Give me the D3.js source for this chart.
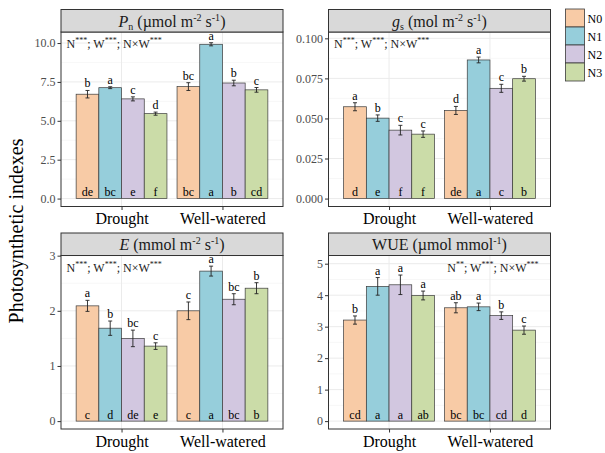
<!DOCTYPE html>
<html>
<head>
<meta charset="utf-8">
<script src="https://cdn.jsdelivr.net/npm/d3@7"></script>
<style>
  body { margin: 0; background: #fff; }
  svg text { font-family: "Liberation Serif", "Times New Roman", serif !important; }
</style>
</head>
<body>
<div id="chart"></div>
<script>
// Categories
const groups = ["Drought", "Well-watered"];
const nLevels = ["N0", "N1", "N2", "N3"];
const colors = ["#F8CBA6", "#96CEDB", "#D2C7E0", "#CBDCA8"];

// Values, ordered Drought N0..N3 then Well-watered N0..N3
const pnMean = [6.71, 7.13, 6.41, 5.46, 7.2, 9.92, 7.43, 6.99];
const pnSe = [0.24, 0.06, 0.13, 0.1, 0.25, 0.1, 0.18, 0.15];
const pnTop = ["b", "a", "c", "d", "bc", "a", "b", "c"];
const pnBottom = ["de", "bc", "e", "f", "bc", "a", "b", "cd"];

const gsMean = [0.0573, 0.0502, 0.0427, 0.0402, 0.055, 0.0865, 0.0688, 0.0748];
const gsSe = [0.0025, 0.002, 0.003, 0.002, 0.0025, 0.0018, 0.0025, 0.0015];
const gsTop = ["a", "b", "c", "c", "d", "a", "c", "b"];
const gsBottom = ["d", "e", "f", "f", "de", "a", "c", "b"];

const eMean = [2.09, 1.685, 1.5, 1.36, 2.0, 2.72, 2.21, 2.41];
const eSe = [0.1, 0.13, 0.15, 0.06, 0.16, 0.09, 0.1, 0.1];
const eTop = ["a", "b", "bc", "c", "c", "a", "bc", "b"];
const eBottom = ["c", "d", "de", "e", "c", "a", "bc", "b"];

const wueMean = [3.21, 4.28, 4.33, 3.99, 3.6, 3.63, 3.35, 2.89];
const wueSe = [0.13, 0.28, 0.31, 0.14, 0.16, 0.12, 0.12, 0.13];
const wueTop = ["b", "a", "a", "a", "ab", "a", "b", "c"];
const wueBottom = ["cd", "a", "a", "ab", "bc", "bc", "cd", "d"];

// Axis ticks and upper end of the data range per panel
const pnTicks = [0, 2.5, 5, 7.5, 10];
const gsTicks = [0, 0.025, 0.05, 0.075, 0.1];
const eTicks = [0, 1, 2, 3];
const wueTicks = [0, 1, 2, 3, 4, 5];
const dataMax = [10.2, 0.099, 2.86, 5.01];

// Significance notes
const sigN = ["***", "***", "***", "**"];

const FONT = "'Liberation Serif', 'Times New Roman', serif";
const width = 605, height = 453;
const svg = d3.select("#chart").append("svg")
  .attr("width", width).attr("height", height)
  .style("font-family", FONT);

const panels = [
  { mean: pnMean, se: pnSe, top: pnTop, bottom: pnBottom, ticks: pnTicks, fmt: ".1f",
    x0: 61, x1: 283, y0: 32, y1: 206.5, title: "pn", noteAlign: "start" },
  { mean: gsMean, se: gsSe, top: gsTop, bottom: gsBottom, ticks: gsTicks, fmt: ".3f",
    x0: 328.5, x1: 550.5, y0: 32, y1: 206.5, title: "gs", noteAlign: "start" },
  { mean: eMean, se: eSe, top: eTop, bottom: eBottom, ticks: eTicks, fmt: "d",
    x0: 61, x1: 283, y0: 255.5, y1: 429, title: "e", noteAlign: "start" },
  { mean: wueMean, se: wueSe, top: wueTop, bottom: wueBottom, ticks: wueTicks, fmt: "d",
    x0: 328.5, x1: 550.5, y0: 255.5, y1: 429, title: "wue", noteAlign: "end" }
];

function writeTitle(t, key) {
  const sup = (s) => t.append("tspan").attr("font-size", 10).attr("dy", -6).text(s);
  const back = () => t.append("tspan").attr("dy", 6);
  if (key === "pn") {
    t.append("tspan").attr("font-style", "italic").text("P");
    t.append("tspan").attr("font-size", 10).attr("dy", 3).text("n");
    t.append("tspan").attr("dy", -3).text(" (µmol m");
  } else if (key === "gs") {
    t.append("tspan").attr("font-style", "italic").text("g");
    t.append("tspan").attr("font-size", 10).attr("dy", 3).text("s");
    t.append("tspan").attr("dy", -3).text(" (mol m");
  } else if (key === "e") {
    t.append("tspan").attr("font-style", "italic").text("E");
    t.append("tspan").text(" (mmol m");
  } else {
    t.append("tspan").text("WUE (µmol mmol");
    sup("-1");
    back().text(")");
    return;
  }
  sup("-2");
  back().text(" s");
  sup("-1");
  back().text(")");
}

function writeNote(t, nStars) {
  const sup = (s) => t.append("tspan").attr("font-size", 8).attr("dy", -5).text(s);
  t.append("tspan").text("N");
  sup(nStars);
  t.append("tspan").attr("dy", 5).text("; W");
  sup("***");
  t.append("tspan").attr("dy", 5).text("; N×W");
  sup("***");
}

panels.forEach((p, pi) => {
  const g = svg.append("g");
  const M = dataMax[pi];
  const y = d3.scaleLinear().domain([-0.05 * M, 1.05 * M]).range([p.y1, p.y0]);
  const x = d3.scaleLinear().domain([0.4, 2.6]).range([p.x0, p.x1]);
  const barW = 0.9 / nLevels.length;

  // background grid
  const step = p.ticks[1] - p.ticks[0];
  const minor = p.ticks.map(v => v + step / 2).concat([p.ticks[0] - step / 2])
    .filter(v => v > y.domain()[0] && v < y.domain()[1]);
  g.selectAll(".minor").data(minor).join("line")
    .attr("x1", p.x0).attr("x2", p.x1)
    .attr("y1", d => y(d)).attr("y2", d => y(d))
    .attr("stroke", "#F2F2F2").attr("stroke-width", 0.6);
  g.selectAll(".major").data(p.ticks).join("line")
    .attr("x1", p.x0).attr("x2", p.x1)
    .attr("y1", d => y(d)).attr("y2", d => y(d))
    .attr("stroke", "#EBEBEB").attr("stroke-width", 1);
  g.selectAll(".vmajor").data(groups).join("line")
    .attr("x1", (d, i) => x(i + 1)).attr("x2", (d, i) => x(i + 1))
    .attr("y1", p.y0).attr("y2", p.y1)
    .attr("stroke", "#EBEBEB").attr("stroke-width", 1);

  // bars
  const rows = p.mean.map((v, k) => {
    const gi = Math.floor(k / nLevels.length), ni = k % nLevels.length;
    const left = gi + 1 - 0.45 + ni * barW;
    return { v, se: p.se[k], ni, left, mid: left + barW / 2, top: p.top[k], bottom: p.bottom[k] };
  });

  g.selectAll(".bar").data(rows).join("rect")
    .attr("x", d => x(d.left))
    .attr("width", d => x(d.left + barW) - x(d.left))
    .attr("y", d => y(d.v))
    .attr("height", d => y(0) - y(d.v))
    .attr("fill", d => colors[d.ni])
    .attr("stroke", "#3a3a3a").attr("stroke-width", 0.7);

  // error bars
  const cap = 2;
  rows.forEach(d => {
    const cx = x(d.mid);
    g.append("line").attr("x1", cx).attr("x2", cx)
      .attr("y1", y(d.v - d.se)).attr("y2", y(d.v + d.se))
      .attr("stroke", "#222").attr("stroke-width", 0.9);
    [d.v - d.se, d.v + d.se].forEach(e => {
      g.append("line").attr("x1", cx - cap).attr("x2", cx + cap)
        .attr("y1", y(e)).attr("y2", y(e))
        .attr("stroke", "#222").attr("stroke-width", 0.9);
    });
  });

  // letters above and inside bars
  g.selectAll(".ltop").data(rows).join("text")
    .attr("x", d => x(d.mid)).attr("y", d => y(d.v + d.se) - 3)
    .attr("text-anchor", "middle").attr("font-size", 12).text(d => d.top);
  g.selectAll(".lbot").data(rows).join("text")
    .attr("x", d => x(d.mid)).attr("y", y(0) - 2.5)
    .attr("text-anchor", "middle").attr("font-size", 12).text(d => d.bottom);

  // panel border
  g.append("rect").attr("x", p.x0).attr("y", p.y0)
    .attr("width", p.x1 - p.x0).attr("height", p.y1 - p.y0)
    .attr("fill", "none").attr("stroke", "#333").attr("stroke-width", 1);

  // strip
  g.append("rect").attr("x", p.x0).attr("y", p.y0 - 22.5)
    .attr("width", p.x1 - p.x0).attr("height", 22.5)
    .attr("fill", "#D9D9D9").attr("stroke", "#333").attr("stroke-width", 1);
  const title = g.append("text")
    .attr("x", (p.x0 + p.x1) / 2).attr("y", p.y0 - 5.5)
    .attr("text-anchor", "middle").attr("font-size", 16).attr("fill", "#1a1a1a");
  writeTitle(title, p.title);

  // significance note
  const note = g.append("text")
    .attr("x", p.noteAlign === "start" ? p.x0 + 5.5 : p.x1 - 12)
    .attr("y", p.y0 + 16)
    .attr("text-anchor", p.noteAlign).attr("font-size", 12).attr("fill", "#1a1a1a");
  writeNote(note, sigN[pi]);

  // y axis
  const yAxis = g.append("g").attr("transform", `translate(${p.x0},0)`)
    .call(d3.axisLeft(y).tickValues(p.ticks).tickFormat(d3.format(p.fmt)).tickSize(3.5).tickPadding(2));
  yAxis.attr("font-family", null);
  yAxis.select(".domain").remove();
  yAxis.selectAll("line").attr("stroke", "#333");
  yAxis.selectAll("text").attr("font-size", 12).attr("fill", "#4D4D4D");

  // x axis
  const xAxis = g.append("g").attr("transform", `translate(0,${p.y1})`)
    .call(d3.axisBottom(x).tickValues([1, 2]).tickFormat((d, i) => groups[i]).tickSize(3.5).tickPadding(3));
  xAxis.attr("font-family", null);
  xAxis.select(".domain").remove();
  xAxis.selectAll("line").attr("stroke", "#333");
  xAxis.selectAll("text").attr("font-size", 16).attr("fill", "#000");
});

// y axis title
svg.append("text")
  .attr("transform", "translate(23,231) rotate(-90)")
  .attr("text-anchor", "middle").attr("font-size", 20).text("Photosynthetic indexes");

// legend
const legend = svg.append("g").attr("transform", "translate(565.5,9)");
nLevels.forEach((n, i) => {
  legend.append("rect").attr("x", 0).attr("y", i * 18)
    .attr("width", 19).attr("height", 18)
    .attr("fill", colors[i]).attr("stroke", "#3a3a3a").attr("stroke-width", 0.8);
  legend.append("text").attr("x", 22).attr("y", i * 18 + 13.5)
    .attr("font-size", 12).text(n);
});
</script>
</body>
</html>
